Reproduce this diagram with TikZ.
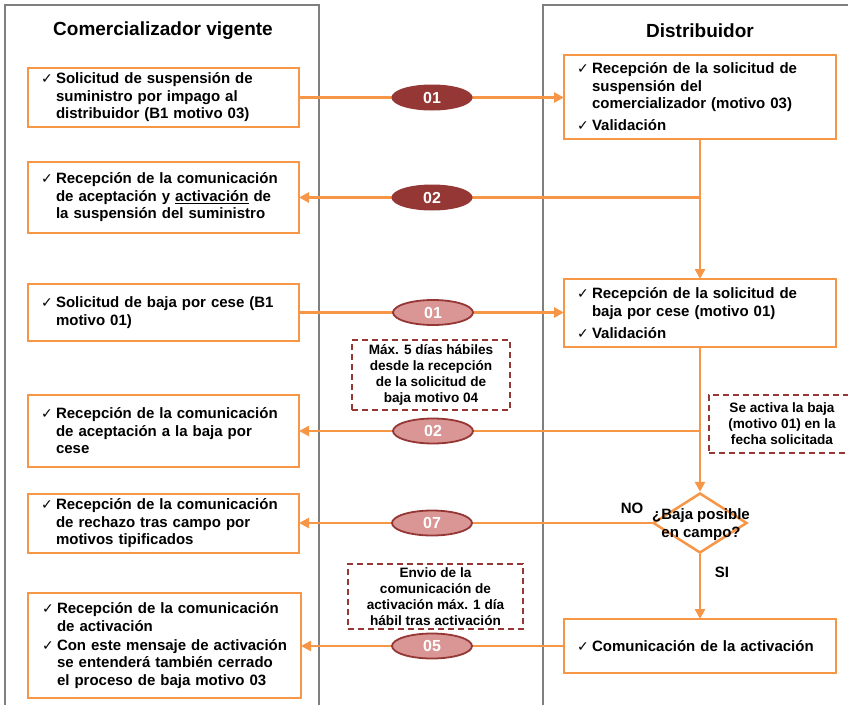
\documentclass[tikz,border=0pt]{standalone}
\usepackage{fontspec}
\setmainfont{Liberation Sans}
\newfontfamily\ckfont{DejaVu Sans}
\usetikzlibrary{arrows.meta,shapes.geometric}
\definecolor{orng}{HTML}{F79646}
\definecolor{lanegray}{HTML}{7F7F7F}
\definecolor{dred}{HTML}{953735}
\definecolor{lred}{HTML}{D99694}
\newcommand\ckline[1]{\noindent\makebox[16pt][l]{\hspace{1pt}\ckfont\mdseries\fontsize{14}{15}\selectfont ✓}\parbox[t]{245pt}{\raggedright #1}\par}
\begin{document}
\begin{tikzpicture}[x=1pt,y=-1pt,
  font=\bfseries\fontsize{15}{17.5}\selectfont,
  lanestyle/.style={draw=lanegray,line width=2.5pt},
  lbox/.style={draw=orng,line width=2.2pt,fill=white,anchor=north west,outer sep=0pt,
    text width=247pt,inner xsep=12pt,inner ysep=0pt,minimum width=271pt,align=left},
  rbox/.style={lbox,text width=248pt,minimum width=272pt},
  flow/.style={draw=orng,line width=2.5pt,-{Triangle[length=10pt,width=10pt]}},
  ell/.style={ellipse,minimum width=80pt,minimum height=25pt,inner sep=0pt,text=white,
    font=\bfseries\fontsize{16}{16}\selectfont},
  dk/.style={ell,fill=dred,draw=dred,line width=1pt},
  lt/.style={ell,fill=lred,draw=dred,line width=1.8pt},
  note/.style={draw=dred,dash pattern=on 6pt off 4pt,line width=1.3pt,align=center,
    inner sep=0pt,fill=white,font=\bfseries\fontsize{13.6}{16}\selectfont},
  title/.style={font=\bfseries\fontsize{19}{22}\selectfont}]
\useasboundingbox (0,0) rectangle (848,704);
\fill[white] (0,0) rectangle (848,704);
% lanes
\draw[lanestyle] (5,712) -- (5,5) -- (319,5) -- (319,712);
\draw[lanestyle] (543,712) -- (543,5) -- (860,5);
\node[title] (t1) at (163,31) {Comercializador vigente};
\node[title] (t2) at (700,31) {Distribuidor};
% left boxes
\node[lbox,minimum height=59pt] (l1) at (28,68) {\ckline{Solicitud de suspensión de\\suministro por impago al\\distribuidor (B1 motivo 03)}};
\node[lbox,minimum height=71pt] (l2) at (28,162) {\ckline{Recepción de la comunicación\\de aceptación y \underline{activación} de\\la suspensión del suministro}};
\node[lbox,minimum height=57pt] (l3) at (28,284) {\ckline{Solicitud de baja por cese (B1\\motivo 01)}};
\node[lbox,minimum height=72pt] (l4) at (28,395) {\ckline{Recepción de la comunicación\\de aceptación a la baja por\\cese}};
\node[lbox,minimum height=59pt] (l5) at (28,494) {\ckline{Recepción de la comunicación\\de rechazo tras campo por\\motivos tipificados}};
\node[lbox,minimum height=105pt,minimum width=273pt] (l6) at (28,593) {\ckline{Recepción de la comunicación\\de activación}\vspace{7pt}\ckline{Con este mensaje de activación\\se entenderá también cerrado\\el proceso de baja motivo 03}};
% right boxes
\node[rbox,minimum height=84pt] (r1) at (564,55) {\ckline{Recepción de la solicitud de\\suspensión del\\comercializador (motivo 03)}\vspace{7pt}\ckline{Validación}};
\node[rbox,minimum height=68pt] (r2) at (564,279) {\ckline{Recepción de la solicitud de\\baja por cese (motivo 01)}\vspace{7pt}\ckline{Validación}};
\node[rbox,minimum height=54pt] (r3) at (564,619) {\ckline{Comunicación de la activación}};
% decision
\node[diamond,draw=orng,line width=2.5pt,fill=white,minimum width=94pt,minimum height=60pt,inner sep=0pt] (d) at (700,523) {};
\node[align=center,font=\bfseries\fontsize{15}{18}\selectfont] (dq) at (701,525) {¿Baja posible\\en campo?};
\node[font=\bfseries\fontsize{15}{18}\selectfont] (no) at (632,508) {NO};
\node[font=\bfseries\fontsize{15}{18}\selectfont] (si) at (722,572) {SI};
% connectors
\draw[flow] (l1.east) -- (l1.east -| r1.west);
\draw[flow] (r1.south) -- (r2.north);
\draw[flow] (r1.south |- l2.east) -- (l2.east);
\draw[flow] (l3.east) -- (l3.east -| r2.west);
\draw[flow] (r2.south) -- (d.north);
\draw[flow] (r2.south |- l4.east) -- (l4.east);
\draw[flow] (d.west) -- (d.west -| l5.east);
\draw[flow] (d.south) -- (r3.north);
\draw[flow] (r3.west) -- (r3.west -| l6.east);
% message ellipses
\node[dk] (e1) at (432,97.5) {01};
\node[dk] (e2) at (432,197.5) {02};
\node[lt] (e3) at (433,312.5) {01};
\node[lt] (e4) at (433,431) {02};
\node[lt] (e5) at (432,523) {07};
\node[lt] (e6) at (432,646) {05};
% notes
\node[note,minimum width=158pt,minimum height=70pt] (n1) at (431,375) {Máx. 5 días hábiles\\desde la recepción\\de la solicitud de\\baja motivo 04};
\node[note,minimum width=146pt,minimum height=58pt] (n2) at (782,424) {Se activa la baja\\(motivo 01) en la\\fecha solicitada};
\node[note,minimum width=175pt,minimum height=65pt] (n3) at (435.5,596.5) {Envio de la\\comunicación de\\activación máx. 1 día\\hábil tras activación};
\end{tikzpicture}
\end{document}
